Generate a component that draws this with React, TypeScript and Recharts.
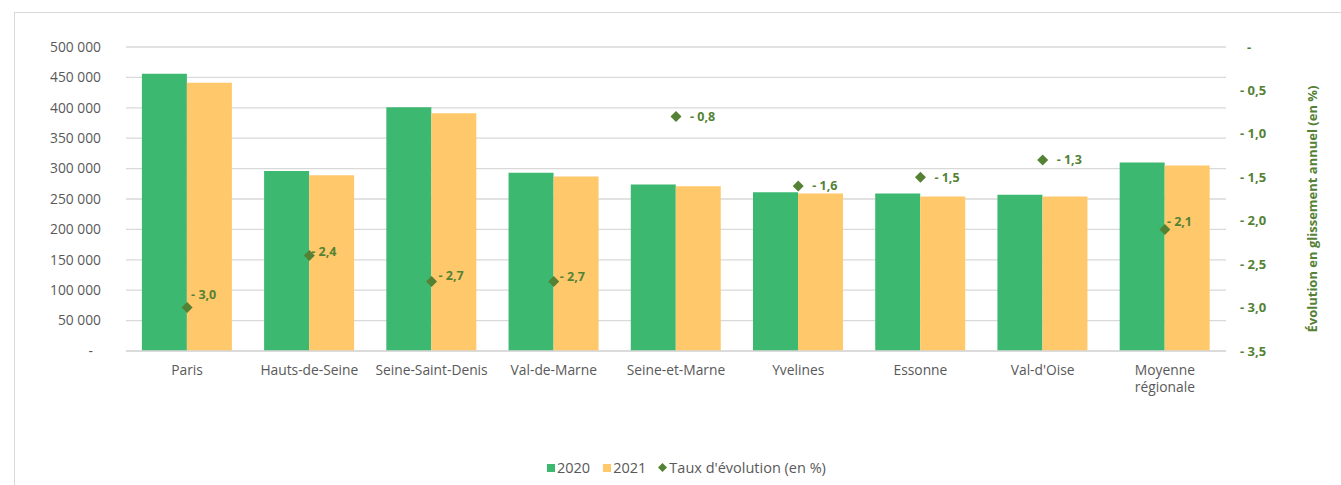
import { ComposedChart, Bar, Line, XAxis, YAxis, CartesianGrid, LabelList, Label } from "recharts";

const categories = [
  "Paris",
  "Hauts-de-Seine",
  "Seine-Saint-Denis",
  "Val-de-Marne",
  "Seine-et-Marne",
  "Yvelines",
  "Essonne",
  "Val-d'Oise",
  "Moyenne régionale",
];
const values2020 = [456000, 296000, 401000, 293000, 274000, 261000, 259000, 257000, 310000];
const values2021 = [441000, 289000, 391000, 287000, 271000, 259000, 254000, 254000, 305000];
const evolutionRates = [-3.0, -2.4, -2.7, -2.7, -0.8, -1.6, -1.5, -1.3, -2.1];
const leftTicks = [0, 50000, 100000, 150000, 200000, 250000, 300000, 350000, 400000, 450000, 500000];
const rightTicks = [-3.5, -3, -2.5, -2, -1.5, -1, -0.5, 0];

const GREEN = "#3DB870";
const ORANGE = "#FFC86B";
const DARK_GREEN = "#548235";
const GREY_TEXT = "#595959";
const GRID = "#D9D9D9";
const FONT = "'Open Sans', sans-serif";

const data = categories.map((name, i) => ({
  name,
  v2020: values2020[i],
  v2021: values2021[i],
  rate: evolutionRates[i],
}));

// label placement around each diamond (text start / vertical centre)
const LABEL_NUDGE = [
  [4, -13],
  [2, -4],
  [7, -6],
  [6, -5],
  [14, 0],
  [14, 0],
  [14, 0],
  [14, 0],
  [2, -8],
];

const fmtThousands = (v: number) =>
  v === 0 ? "-" : String(v).replace(/\B(?=(\d{3})+(?!\d))/g, " ");
const fmtRate = (v: number) =>
  v === 0 ? "-" : `- ${Math.abs(v).toFixed(1).replace(".", ",")}`;

const LeftTick = (props: any) => {
  const { x, y, payload } = props;
  const v = payload.value as number;
  return (
    <text x={v === 0 ? x - 8 : x} y={y} dy="0.355em" textAnchor="end" fontSize={13.8} fill={GREY_TEXT} fontFamily={FONT}>
      {fmtThousands(v)}
    </text>
  );
};

const RightTick = (props: any) => {
  const { x, y, payload } = props;
  const v = payload.value as number;
  return (
    <text x={v === 0 ? x + 7 : x} y={y} dy="0.355em" textAnchor="start" fontSize={13} fontWeight="bold" fill={DARK_GREEN} fontFamily={FONT}>
      {fmtRate(v)}
    </text>
  );
};

// category names wrap on spaces ("Moyenne régionale" takes two lines)
const CategoryTick = (props: any) => {
  const { x, y, payload } = props;
  const lines = String(payload.value).split(" ");
  return (
    <text x={x} y={y} textAnchor="middle" fontSize={13.8} fill={GREY_TEXT} fontFamily={FONT}>
      {lines.map((line, i) => (
        <tspan key={i} x={x} dy={i === 0 ? "0.62em" : 17}>
          {line}
        </tspan>
      ))}
    </text>
  );
};

const Diamond = (props: any) => {
  const { cx, cy, index } = props;
  if (cx == null || cy == null) return <g key={index} />;
  const r = 5.5;
  return (
    <path
      key={index}
      d={`M${cx},${cy - r} L${cx + r},${cy} L${cx},${cy + r} L${cx - r},${cy} Z`}
      fill={DARK_GREEN}
    />
  );
};

const RateLabel = (props: any) => {
  const { x, y, value, index } = props;
  const [dx, dy] = LABEL_NUDGE[index] ?? [10, 0];
  return (
    <text x={x + dx} y={y + dy} dy="0.355em" fontSize={12.5} fontWeight="bold" fill={DARK_GREEN} fontFamily={FONT}>
      {fmtRate(value)}
    </text>
  );
};

const LegendSquare = ({ color }: { color: string }) => (
  <span style={{ display: "inline-block", width: 8, height: 8, background: color, marginRight: 2 }} />
);

export default function App() {
  return (
    <div
      style={{
        position: "absolute",
        left: 0,
        top: 0,
        width: 1341,
        height: 485,
        overflow: "hidden",
        background: "#fff",
        fontFamily: FONT,
      }}
    >
      <div
        style={{
          position: "absolute",
          left: 14,
          top: 12,
          width: 1400,
          height: 600,
          border: `1.5px solid ${GRID}`,
        }}
      />
      <div style={{ position: "absolute", left: 0, top: 0 }}>
        <ComposedChart
          width={1341}
          height={485}
          data={data}
          margin={{ top: 47, right: 0, bottom: 104, left: 0 }}
          barCategoryGap="13%"
          barGap={0}
        >
          <CartesianGrid yAxisId="left" vertical={false} stroke={GRID} strokeWidth={1.3} />
          <XAxis
            dataKey="name"
            height={30}
            tickLine={false}
            axisLine={{ stroke: GRID, strokeWidth: 1.5 }}
            tickMargin={9}
            tick={<CategoryTick />}
            interval={0}
          />
          <YAxis
            yAxisId="left"
            width={126}
            domain={[0, 500000]}
            ticks={leftTicks}
            axisLine={false}
            tickLine={false}
            tickMargin={19}
            tick={<LeftTick />}
          />
          <YAxis
            yAxisId="right"
            orientation="right"
            width={115}
            domain={[-3.5, 0]}
            ticks={rightTicks}
            axisLine={false}
            tickLine={false}
            tickMargin={8}
            tick={<RightTick />}
          >
            <Label
              content={(p: any) => {
                const vb = p.viewBox;
                const cx = vb.x + 86;
                const cy = 209;
                return (
                  <text
                    x={cx}
                    y={cy}
                    transform={`rotate(-90 ${cx} ${cy})`}
                    textAnchor="middle"
                    dy="0.355em"
                    fontSize={13}
                    fontWeight="bold"
                    fill={DARK_GREEN}
                    fontFamily={FONT}
                  >
                    Évolution en glissement annuel (en %)
                  </text>
                );
              }}
            />
          </YAxis>
          <Bar yAxisId="left" dataKey="v2020" name="2020" fill={GREEN} isAnimationActive={false} />
          <Bar yAxisId="left" dataKey="v2021" name="2021" fill={ORANGE} isAnimationActive={false} />
          <Line
            yAxisId="right"
            dataKey="rate"
            name="Taux d'évolution (en %)"
            stroke="none"
            dot={<Diamond />}
            activeDot={false}
            isAnimationActive={false}
          >
            <LabelList dataKey="rate" content={<RateLabel />} />
          </Line>
        </ComposedChart>
      </div>
      <div
        style={{
          position: "absolute",
          left: 547,
          top: 458,
          display: "flex",
          alignItems: "center",
          fontSize: 14.5,
          color: GREY_TEXT,
          whiteSpace: "nowrap",
        }}
      >
        <LegendSquare color={GREEN} />
        <span style={{ marginRight: 13 }}>2020</span>
        <LegendSquare color={ORANGE} />
        <span style={{ marginRight: 12 }}>2021</span>
        <svg width={9} height={9} style={{ marginRight: 2 }}>
          <path d="M4.5,0 L9,4.5 L4.5,9 L0,4.5 Z" fill={DARK_GREEN} />
        </svg>
        <span>Taux d'évolution (en %)</span>
      </div>
    </div>
  );
}
